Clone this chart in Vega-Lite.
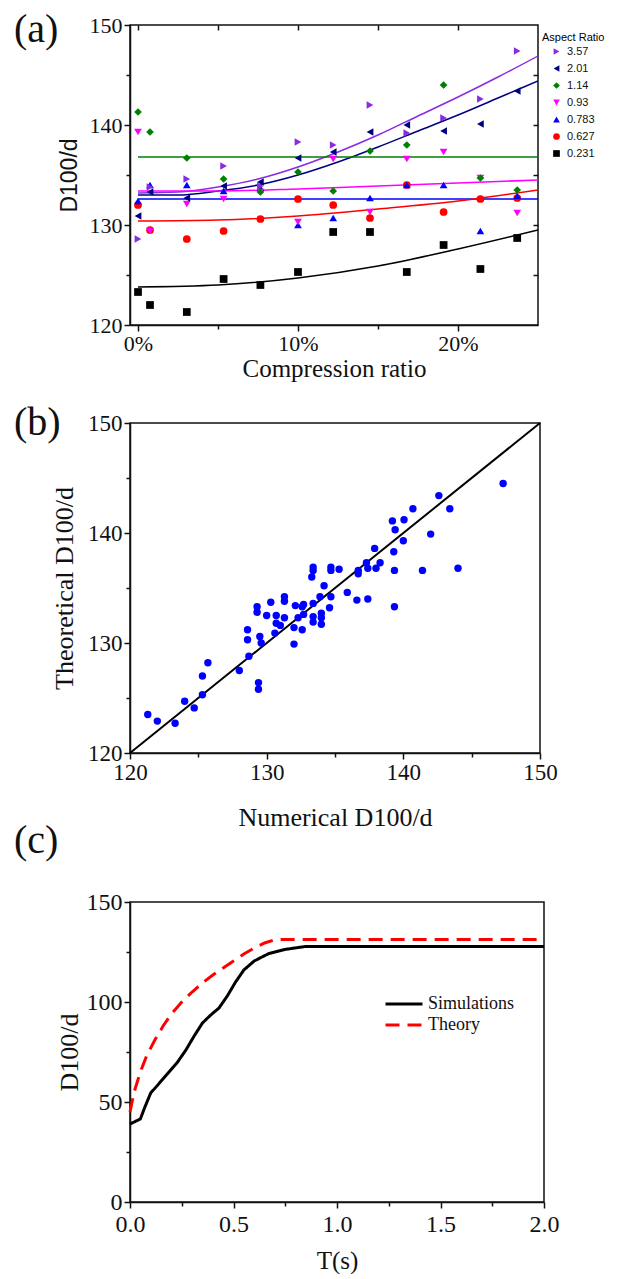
{
  "$schema": "https://vega.github.io/schema/vega-lite/v6.json",
  "padding": {"left": 13, "top": 9, "right": 0, "bottom": 0},
  "spacing": -11,
  "datasets": {
    "pts": [
      {"ar":"0.231","cr":0,"d":123.3},{"ar":"0.231","cr":0.75,"d":122.0},{"ar":"0.231","cr":3.05,"d":121.3},{"ar":"0.231","cr":5.35,"d":124.6},{"ar":"0.231","cr":7.65,"d":124.0},{"ar":"0.231","cr":10,"d":125.3},{"ar":"0.231","cr":12.2,"d":129.3},{"ar":"0.231","cr":14.5,"d":129.3},{"ar":"0.231","cr":16.8,"d":125.3},{"ar":"0.231","cr":19.1,"d":128.0},{"ar":"0.231","cr":21.4,"d":125.6},{"ar":"0.231","cr":23.7,"d":128.7},
      {"ar":"0.627","cr":0,"d":132.0},{"ar":"0.627","cr":0.75,"d":129.5},{"ar":"0.627","cr":3.05,"d":128.6},{"ar":"0.627","cr":5.35,"d":129.4},{"ar":"0.627","cr":7.65,"d":130.6},{"ar":"0.627","cr":10,"d":132.6},{"ar":"0.627","cr":12.2,"d":132.0},{"ar":"0.627","cr":14.5,"d":130.7},{"ar":"0.627","cr":16.8,"d":134.0},{"ar":"0.627","cr":19.1,"d":131.3},{"ar":"0.627","cr":21.4,"d":132.6},{"ar":"0.627","cr":23.7,"d":132.7},
      {"ar":"0.783","cr":0,"d":132.4},{"ar":"0.783","cr":0.75,"d":134.0},{"ar":"0.783","cr":3.05,"d":134.0},{"ar":"0.783","cr":5.35,"d":133.4},{"ar":"0.783","cr":7.65,"d":133.7},{"ar":"0.783","cr":10,"d":130.0},{"ar":"0.783","cr":12.2,"d":130.7},{"ar":"0.783","cr":14.5,"d":132.7},{"ar":"0.783","cr":16.8,"d":134.0},{"ar":"0.783","cr":19.1,"d":134.0},{"ar":"0.783","cr":21.4,"d":129.4},{"ar":"0.783","cr":23.7,"d":132.9},
      {"ar":"0.93","cr":0,"d":139.3},{"ar":"0.93","cr":0.75,"d":129.4},{"ar":"0.93","cr":3.05,"d":132.1},{"ar":"0.93","cr":5.35,"d":132.6},{"ar":"0.93","cr":7.65,"d":133.3},{"ar":"0.93","cr":10,"d":130.3},{"ar":"0.93","cr":12.2,"d":136.6},{"ar":"0.93","cr":14.5,"d":131.3},{"ar":"0.93","cr":16.8,"d":136.6},{"ar":"0.93","cr":19.1,"d":137.3},{"ar":"0.93","cr":21.4,"d":134.7},{"ar":"0.93","cr":23.7,"d":131.2},
      {"ar":"1.14","cr":0,"d":141.3},{"ar":"1.14","cr":0.75,"d":139.3},{"ar":"1.14","cr":3.05,"d":136.7},{"ar":"1.14","cr":5.35,"d":134.6},{"ar":"1.14","cr":7.65,"d":133.3},{"ar":"1.14","cr":10,"d":135.3},{"ar":"1.14","cr":12.2,"d":133.4},{"ar":"1.14","cr":14.5,"d":137.4},{"ar":"1.14","cr":16.8,"d":138.0},{"ar":"1.14","cr":19.1,"d":144.0},{"ar":"1.14","cr":21.4,"d":134.7},{"ar":"1.14","cr":23.7,"d":133.5},
      {"ar":"2.01","cr":0,"d":130.9},{"ar":"2.01","cr":0.75,"d":133.3},{"ar":"2.01","cr":3.05,"d":132.7},{"ar":"2.01","cr":5.35,"d":133.9},{"ar":"2.01","cr":7.65,"d":134.3},{"ar":"2.01","cr":10,"d":136.7},{"ar":"2.01","cr":12.2,"d":137.3},{"ar":"2.01","cr":14.5,"d":139.3},{"ar":"2.01","cr":16.8,"d":140.0},{"ar":"2.01","cr":19.1,"d":139.4},{"ar":"2.01","cr":21.4,"d":140.1},{"ar":"2.01","cr":23.7,"d":143.4},
      {"ar":"3.57","cr":0,"d":128.6},{"ar":"3.57","cr":0.75,"d":133.8},{"ar":"3.57","cr":3.05,"d":134.6},{"ar":"3.57","cr":5.35,"d":135.9},{"ar":"3.57","cr":7.65,"d":133.9},{"ar":"3.57","cr":10,"d":138.3},{"ar":"3.57","cr":12.2,"d":138.0},{"ar":"3.57","cr":14.5,"d":142.0},{"ar":"3.57","cr":16.8,"d":139.2},{"ar":"3.57","cr":19.1,"d":140.7},{"ar":"3.57","cr":21.4,"d":142.6},{"ar":"3.57","cr":23.7,"d":147.4}
    ],
    "fits": [
      {"ar":"3.57","cr":0,"d":133.2},{"ar":"3.57","cr":2.5,"d":133.3},{"ar":"3.57","cr":5,"d":133.8},{"ar":"3.57","cr":7.5,"d":134.6},{"ar":"3.57","cr":10,"d":135.8},{"ar":"3.57","cr":12.5,"d":137.3},{"ar":"3.57","cr":15,"d":139.0},{"ar":"3.57","cr":17.5,"d":140.9},{"ar":"3.57","cr":20,"d":142.8},{"ar":"3.57","cr":22.5,"d":144.8},{"ar":"3.57","cr":25,"d":146.9},
      {"ar":"2.01","cr":0,"d":133.0},{"ar":"2.01","cr":2.5,"d":133.0},{"ar":"2.01","cr":5,"d":133.4},{"ar":"2.01","cr":7.5,"d":134.0},{"ar":"2.01","cr":10,"d":135.0},{"ar":"2.01","cr":12.5,"d":136.3},{"ar":"2.01","cr":15,"d":137.8},{"ar":"2.01","cr":17.5,"d":139.4},{"ar":"2.01","cr":20,"d":141.0},{"ar":"2.01","cr":22.5,"d":142.7},{"ar":"2.01","cr":25,"d":144.4},
      {"ar":"1.14","cr":0,"d":136.8},{"ar":"1.14","cr":25,"d":136.8},
      {"ar":"0.93","cr":0,"d":133.4},{"ar":"0.93","cr":5,"d":133.4},{"ar":"0.93","cr":10,"d":133.6},{"ar":"0.93","cr":15,"d":133.9},{"ar":"0.93","cr":20,"d":134.2},{"ar":"0.93","cr":25,"d":134.5},
      {"ar":"0.783","cr":0,"d":132.6},{"ar":"0.783","cr":25,"d":132.6},
      {"ar":"0.627","cr":0,"d":130.4},{"ar":"0.627","cr":5,"d":130.5},{"ar":"0.627","cr":10,"d":130.9},{"ar":"0.627","cr":15,"d":131.6},{"ar":"0.627","cr":20,"d":132.4},{"ar":"0.627","cr":25,"d":133.5},
      {"ar":"0.231","cr":0,"d":123.8},{"ar":"0.231","cr":5,"d":124.0},{"ar":"0.231","cr":10,"d":124.7},{"ar":"0.231","cr":15,"d":125.9},{"ar":"0.231","cr":20,"d":127.6},{"ar":"0.231","cr":25,"d":129.5}
    ],
    "comp": [
      {"n":121.3,"t":123.5},{"n":122.0,"t":122.9},{"n":123.3,"t":122.7},{"n":124.0,"t":124.7},{"n":124.7,"t":124.1},{"n":125.3,"t":127.0},{"n":125.3,"t":125.3},{"n":125.7,"t":128.2},{"n":128.0,"t":127.5},{"n":128.6,"t":131.2},{"n":128.6,"t":130.3},{"n":128.7,"t":128.8},{"n":129.3,"t":133.3},{"n":129.3,"t":132.8},{"n":129.4,"t":126.4},{"n":129.4,"t":125.8},{"n":129.5,"t":130.6},{"n":129.6,"t":130.0},{"n":130.0,"t":132.5},{"n":130.3,"t":133.7},{"n":130.6,"t":130.9},{"n":130.7,"t":132.5},{"n":130.7,"t":131.8},{"n":131.0,"t":131.6},{"n":131.3,"t":134.2},{"n":131.3,"t":133.8},{"n":131.3,"t":132.3},{"n":132.0,"t":129.9},{"n":132.0,"t":131.4},{"n":132.1,"t":133.4},{"n":132.3,"t":132.3},{"n":132.6,"t":131.2},{"n":132.6,"t":133.3},{"n":132.7,"t":133.5},{"n":132.7,"t":132.6},{"n":133.3,"t":136.0},{"n":133.4,"t":136.9},{"n":133.4,"t":136.6},{"n":133.4,"t":133.6},{"n":133.4,"t":132.4},{"n":133.4,"t":131.9},{"n":133.9,"t":134.2},{"n":134.0,"t":132.7},{"n":134.0,"t":132.3},{"n":134.0,"t":131.7},{"n":134.2,"t":135.2},{"n":134.6,"t":133.2},{"n":134.7,"t":136.9},{"n":134.7,"t":136.6},{"n":134.7,"t":134.2},{"n":135.3,"t":136.7},{"n":135.9,"t":134.6},{"n":136.6,"t":133.9},{"n":136.7,"t":136.6},{"n":136.7,"t":136.3},{"n":137.3,"t":137.3},{"n":137.4,"t":136.8},{"n":137.4,"t":134.0},{"n":137.9,"t":138.6},{"n":138.0,"t":136.8},{"n":138.3,"t":137.3},{"n":139.2,"t":141.1},{"n":139.3,"t":138.3},{"n":139.35,"t":136.6},{"n":139.35,"t":133.3},{"n":139.4,"t":140.3},{"n":140.0,"t":139.3},{"n":140.05,"t":141.2},{"n":140.7,"t":142.2},{"n":141.4,"t":136.6},{"n":142.0,"t":139.9},{"n":142.6,"t":143.4},{"n":143.4,"t":142.2},{"n":144.0,"t":136.8},{"n":147.3,"t":144.5}
    ],
    "diag": [{"n":120,"t":120},{"n":150,"t":150}],
    "time": [
      {"s":"Simulations","t":0,"v":39},{"s":"Simulations","t":0.05,"v":41.5},{"s":"Simulations","t":0.07,"v":47},{"s":"Simulations","t":0.1,"v":54.5},{"s":"Simulations","t":0.13,"v":58},{"s":"Simulations","t":0.18,"v":64},{"s":"Simulations","t":0.23,"v":70},{"s":"Simulations","t":0.27,"v":76},{"s":"Simulations","t":0.31,"v":83},{"s":"Simulations","t":0.35,"v":89.5},{"s":"Simulations","t":0.39,"v":93.5},{"s":"Simulations","t":0.43,"v":97},{"s":"Simulations","t":0.47,"v":103},{"s":"Simulations","t":0.51,"v":110},{"s":"Simulations","t":0.55,"v":116},{"s":"Simulations","t":0.6,"v":120.5},{"s":"Simulations","t":0.67,"v":124.2},{"s":"Simulations","t":0.75,"v":126.3},{"s":"Simulations","t":0.85,"v":127.8},{"s":"Simulations","t":2.0,"v":127.8},
      {"s":"Theory","t":0,"v":45},{"s":"Theory","t":0.02,"v":55},{"s":"Theory","t":0.05,"v":65},{"s":"Theory","t":0.08,"v":73},{"s":"Theory","t":0.12,"v":81},{"s":"Theory","t":0.16,"v":88},{"s":"Theory","t":0.2,"v":94},{"s":"Theory","t":0.25,"v":100},{"s":"Theory","t":0.3,"v":105},{"s":"Theory","t":0.35,"v":109.5},{"s":"Theory","t":0.4,"v":113.5},{"s":"Theory","t":0.45,"v":117},{"s":"Theory","t":0.5,"v":120.5},{"s":"Theory","t":0.55,"v":124},{"s":"Theory","t":0.6,"v":127},{"s":"Theory","t":0.65,"v":129.5},{"s":"Theory","t":0.7,"v":131.2},{"s":"Theory","t":0.8,"v":131.3},{"s":"Theory","t":2.0,"v":131.3}
    ]
  },
  "vconcat": [
    {
      "width": 408, "height": 300,
      "title": {"text": "(a)", "orient": "top", "anchor": "start", "frame": "group", "baseline": "bottom", "offset": -76, "dx": -116, "fontSize": 40},
      "layer": [
        {
          "data": {"name": "fits"},
          "transform": [{"filter": {"field": "ar", "equal": "3.57"}}],
          "mark": {"type": "line", "strokeWidth": 1.5, "interpolate": "monotone", "clip": true, "color": "#8A2BE2"},
          "encoding": {
            "x": {"field": "cr", "type": "quantitative", "scale": {"domain": [-0.5, 25], "nice": false},
              "axis": {"orient": "bottom", "values": [0, 5, 10, 15, 20], "labelExpr": "datum.value % 10 === 0 ? datum.value + '%' : ''", "tickSize": {"condition": {"test": "datum.value % 10 === 0", "value": 6}, "value": 4}, "labelFontSize": 22, "labelFlush": false, "labelOverlap": false, "title": "Compression ratio", "titleFontSize": 25, "titlePadding": 2}},
            "y": {"field": "d", "type": "quantitative", "scale": {"domain": [120, 150], "nice": false, "zero": false},
              "axis": {"values": [120, 125, 130, 135, 140, 145, 150], "labelExpr": "datum.value % 10 === 0 ? datum.label : ''", "tickSize": {"condition": {"test": "datum.value % 10 === 0", "value": 6}, "value": 4}, "labelFontSize": 22, "labelFlush": false, "labelOverlap": false, "title": "D100/d", "titleFont": "Liberation Sans", "titleFontSize": 23, "titlePadding": 8}}
          }
        },
        {
          "data": {"name": "fits"},
          "transform": [{"filter": {"field": "ar", "equal": "2.01"}}],
          "mark": {"type": "line", "strokeWidth": 1.5, "interpolate": "monotone", "clip": true, "color": "#000080"},
          "encoding": {"x": {"field": "cr", "type": "quantitative", "axis": null}, "y": {"field": "d", "type": "quantitative", "axis": null}}
        },
        {
          "data": {"name": "fits"},
          "transform": [{"filter": {"field": "ar", "equal": "1.14"}}],
          "mark": {"type": "line", "strokeWidth": 1.5, "clip": true, "color": "#008000"},
          "encoding": {"x": {"field": "cr", "type": "quantitative", "axis": null}, "y": {"field": "d", "type": "quantitative", "axis": null}}
        },
        {
          "data": {"name": "fits"},
          "transform": [{"filter": {"field": "ar", "equal": "0.93"}}],
          "mark": {"type": "line", "strokeWidth": 1.5, "interpolate": "monotone", "clip": true, "color": "#FF00FF"},
          "encoding": {"x": {"field": "cr", "type": "quantitative", "axis": null}, "y": {"field": "d", "type": "quantitative", "axis": null}}
        },
        {
          "data": {"name": "fits"},
          "transform": [{"filter": {"field": "ar", "equal": "0.783"}}],
          "mark": {"type": "line", "strokeWidth": 1.5, "clip": true, "color": "#0000FF"},
          "encoding": {"x": {"field": "cr", "type": "quantitative", "axis": null}, "y": {"field": "d", "type": "quantitative", "axis": null}}
        },
        {
          "data": {"name": "fits"},
          "transform": [{"filter": {"field": "ar", "equal": "0.627"}}],
          "mark": {"type": "line", "strokeWidth": 1.5, "interpolate": "monotone", "clip": true, "color": "#FF0000"},
          "encoding": {"x": {"field": "cr", "type": "quantitative", "axis": null}, "y": {"field": "d", "type": "quantitative", "axis": null}}
        },
        {
          "data": {"name": "fits"},
          "transform": [{"filter": {"field": "ar", "equal": "0.231"}}],
          "mark": {"type": "line", "strokeWidth": 1.5, "interpolate": "monotone", "clip": true, "color": "#000000"},
          "encoding": {"x": {"field": "cr", "type": "quantitative", "axis": null}, "y": {"field": "d", "type": "quantitative", "axis": null}}
        },
        {
          "data": {"name": "pts"},
          "mark": {"type": "point", "filled": true, "opacity": 1, "size": 60},
          "encoding": {
            "x": {"field": "cr", "type": "quantitative", "axis": {"orient": "top", "values": [0, 5, 10, 15, 20], "labels": false, "tickSize": -5, "domain": false, "title": null}},
            "y": {"field": "d", "type": "quantitative", "axis": {"orient": "right", "values": [125, 130, 135, 140, 145], "labels": false, "tickSize": -5, "domain": false, "title": null}},
            "color": {"field": "ar", "type": "nominal", "title": "Aspect Ratio",
              "scale": {"domain": ["3.57", "2.01", "1.14", "0.93", "0.783", "0.627", "0.231"], "range": ["#8A2BE2", "#000080", "#008000", "#FF00FF", "#0000FF", "#FF0000", "#000000"]},
              "legend": {"orient": "none", "legendX": 412, "legendY": 7, "padding": 0, "titleFont": "Liberation Sans", "titleFontSize": 11, "titleFontWeight": "normal", "titlePadding": 3, "labelFont": "Liberation Sans", "labelFontSize": 11, "symbolSize": 45, "symbolOffset": 9, "rowPadding": 5, "labelOffset": 5}},
            "shape": {"field": "ar", "type": "nominal", "title": "Aspect Ratio",
              "scale": {"domain": ["3.57", "2.01", "1.14", "0.93", "0.783", "0.627", "0.231"], "range": ["triangle-right", "triangle-left", "diamond", "triangle-down", "triangle-up", "circle", "square"]},
              "legend": {"orient": "none", "legendX": 412, "legendY": 7, "padding": 0, "titleFont": "Liberation Sans", "titleFontSize": 11, "titleFontWeight": "normal", "titlePadding": 3, "labelFont": "Liberation Sans", "labelFontSize": 11, "symbolSize": 45, "symbolOffset": 9, "rowPadding": 5, "labelOffset": 5}}
          }
        }
      ],
      "resolve": {"axis": {"x": "independent", "y": "independent"}}
    },
    {
      "width": 410, "height": 330,
      "title": {"text": ["", "(b)"], "lineHeight": 31, "orient": "top", "anchor": "start", "frame": "group", "baseline": "bottom", "offset": -71, "dx": -116, "fontSize": 40},
      "layer": [
        {
          "data": {"name": "diag"},
          "mark": {"type": "line", "color": "#000000", "strokeWidth": 2},
          "encoding": {
            "x": {"field": "n", "type": "quantitative", "scale": {"domain": [120, 150], "nice": false, "zero": false},
              "axis": {"values": [120, 125, 130, 135, 140, 145, 150], "labelExpr": "datum.value % 10 === 0 ? datum.label : ''", "tickSize": {"condition": {"test": "datum.value % 10 === 0", "value": 6}, "value": 4}, "labelFontSize": 23, "labelFlush": false, "labelOverlap": false, "title": "Numerical D100/d", "titleFontSize": 26, "titlePadding": 20}},
            "y": {"field": "t", "type": "quantitative", "scale": {"domain": [120, 150], "nice": false, "zero": false},
              "axis": {"values": [120, 125, 130, 135, 140, 145, 150], "labelExpr": "datum.value % 10 === 0 ? datum.label : ''", "tickSize": {"condition": {"test": "datum.value % 10 === 0", "value": 6}, "value": 4}, "labelFontSize": 23, "labelFlush": false, "labelOverlap": false, "title": "Theoretical D100/d", "titleFontSize": 26, "titlePadding": 10}}
          }
        },
        {
          "data": {"name": "comp"},
          "mark": {"type": "circle", "color": "#0000FF", "opacity": 1, "size": 55},
          "encoding": {
            "x": {"field": "n", "type": "quantitative"},
            "y": {"field": "t", "type": "quantitative"}
          }
        }
      ]
    },
    {
      "width": 414, "height": 300,
      "title": {"text": "(c)", "orient": "top", "anchor": "start", "frame": "group", "baseline": "bottom", "offset": -11, "dx": -116, "fontSize": 40},
      "data": {"name": "time"},
      "mark": {"type": "line", "strokeWidth": 3},
      "encoding": {
        "x": {"field": "t", "type": "quantitative", "scale": {"domain": [0, 2], "nice": false},
          "axis": {"values": [0, 0.25, 0.5, 0.75, 1, 1.25, 1.5, 1.75, 2], "labelExpr": "datum.value % 0.5 === 0 ? format(datum.value, '.1f') : ''", "tickSize": {"condition": {"test": "datum.value % 0.5 === 0", "value": 6}, "value": 4}, "labelFontSize": 24, "labelPadding": 4, "labelFlush": false, "labelOverlap": false, "title": "T(s)", "titleFontSize": 25, "titlePadding": 12}},
        "y": {"field": "v", "type": "quantitative", "scale": {"domain": [0, 150], "nice": false},
          "axis": {"values": [0, 25, 50, 75, 100, 125, 150], "labelExpr": "datum.value % 50 === 0 ? datum.label : ''", "tickSize": {"condition": {"test": "datum.value % 50 === 0", "value": 6}, "value": 4}, "labelFontSize": 24, "labelFlush": false, "labelOverlap": false, "title": "D100/d", "titleFontSize": 26, "titlePadding": 4}},
        "stroke": {"field": "s", "type": "nominal", "scale": {"domain": ["Simulations", "Theory"], "range": ["#000000", "#FF0000"]},
          "legend": {"orient": "none", "legendX": 254, "legendY": 970, "title": null, "labelFontSize": 18, "symbolType": "stroke", "symbolSize": 1369, "symbolStrokeWidth": 3, "clipHeight": 18, "rowPadding": 3, "labelOffset": 4}},
        "strokeDash": {"field": "s", "type": "nominal", "scale": {"domain": ["Simulations", "Theory"], "range": [[1, 0], [14, 8]]},
          "legend": {"orient": "none", "legendX": 254, "legendY": 970, "title": null, "labelFontSize": 18, "symbolType": "stroke", "symbolSize": 1369, "symbolStrokeWidth": 3, "clipHeight": 18, "rowPadding": 3, "labelOffset": 4}}
      }
    }
  ],
  "config": {
    "font": "Liberation Serif",
    "view": {"stroke": "#111111", "strokeWidth": 1.5},
    "axis": {"grid": false, "domainColor": "#111111", "domainWidth": 1.5, "tickColor": "#111111", "tickWidth": 1.5, "labelColor": "#111111", "titleColor": "#111111", "titleFontWeight": "normal", "labelFont": "Liberation Serif", "titleFont": "Liberation Serif", "labelPadding": 2},
    "title": {"font": "Liberation Serif", "fontWeight": "normal", "color": "#111111"},
    "legend": {"labelFont": "Liberation Serif", "labelColor": "#111111"}
  }
}
